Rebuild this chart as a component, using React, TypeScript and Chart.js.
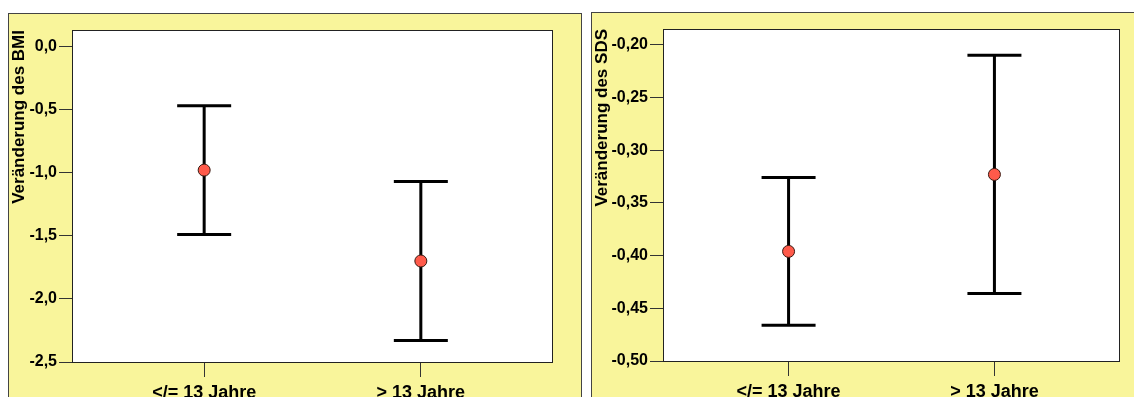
import React, { useEffect, useRef } from 'react';
import { Chart, registerables } from 'chart.js';

Chart.register(...registerables);

// ---- data ----
const categories = ['</= 13 Jahre', '> 13 Jahre'];

const bmiMean = [-0.98, -1.7];
const bmiLower = [-1.49, -2.33];
const bmiUpper = [-0.47, -1.07];
const bmiTicks = [0, -0.5, -1.0, -1.5, -2.0, -2.5];

const sdsMean = [-0.396, -0.323];
const sdsLower = [-0.466, -0.436];
const sdsUpper = [-0.326, -0.21];
const sdsTicks = [-0.2, -0.25, -0.3, -0.35, -0.4, -0.45, -0.5];

const FONT = "'Liberation Sans', Arial, Helvetica, sans-serif";
const YELLOW = '#f9f59b';

function makeErrorBarPlugin(lower: number[], upper: number[], capHalf: number) {
  return {
    id: 'errorBars',
    beforeDraw(chart: any) {
      const { ctx, chartArea: a } = chart;
      ctx.save();
      ctx.fillStyle = '#ffffff';
      ctx.fillRect(a.left, a.top, a.right - a.left, a.bottom - a.top);
      ctx.restore();
    },
    beforeDatasetsDraw(chart: any) {
      const { ctx } = chart;
      const x = chart.scales.x;
      const y = chart.scales.y;
      ctx.save();
      ctx.strokeStyle = '#000000';
      ctx.lineWidth = 3;
      ctx.lineCap = 'butt';
      lower.forEach((lo, i) => {
        const px = x.getPixelForValue(i + 1);
        const pl = y.getPixelForValue(lo);
        const pu = y.getPixelForValue(upper[i]);
        ctx.beginPath();
        ctx.moveTo(px, pl);
        ctx.lineTo(px, pu);
        ctx.moveTo(px - capHalf, pl);
        ctx.lineTo(px + capHalf, pl);
        ctx.moveTo(px - capHalf, pu);
        ctx.lineTo(px + capHalf, pu);
        ctx.stroke();
      });
      ctx.restore();
    },
    afterDraw(chart: any) {
      const { ctx, chartArea: a } = chart;
      ctx.save();
      ctx.strokeStyle = '#222222';
      ctx.lineWidth = 1;
      ctx.strokeRect(a.left + 0.5, a.top + 0.5, a.right - a.left - 1, a.bottom - a.top);
      ctx.restore();
    },
  };
}

type PanelProps = {
  left: number;
  top: number;
  width: number;
  height: number;
  mean: number[];
  lower: number[];
  upper: number[];
  ticks: number[];
  decimals: number;
  title: string;
  yMin: number;
  yMax: number;
  yWidth: number;
  xHeight: number;
  padTop: number;
  padRight: number;
};

function Panel(p: PanelProps) {
  const ref = useRef<HTMLCanvasElement | null>(null);
  const cw = p.width - 2;
  const ch = p.height - 2;

  useEffect(() => {
    if (!ref.current) return;
    const chart = new Chart(ref.current, {
      type: 'scatter',
      data: {
        datasets: [
          {
            data: categories.map((_, i) => ({ x: i + 1, y: p.mean[i] })),
            pointRadius: 6,
            pointHoverRadius: 6,
            backgroundColor: '#ff5a4a',
            borderColor: '#3a1a12',
            borderWidth: 1,
          },
        ],
      },
      options: {
        animation: false,
        responsive: false,
        maintainAspectRatio: false,
        events: [],
        layout: { padding: { top: p.padTop, right: p.padRight, left: 0, bottom: 0 } },
        plugins: {
          legend: { display: false },
          tooltip: { enabled: false },
        },
        scales: {
          x: {
            type: 'linear',
            min: 0.39,
            max: 2.61,
            afterBuildTicks: (s: any) => {
              s.ticks = categories.map((_, i) => ({ value: i + 1 }));
            },
            afterFit: (s: any) => {
              s.height = p.xHeight;
            },
            ticks: {
              autoSkip: false,
              maxRotation: 0,
              padding: 5,
              color: '#000',
              font: { family: FONT, size: 18, weight: 'bold' },
              callback: (_v: any, i: number) => categories[i],
            },
            grid: {
              display: true,
              drawOnChartArea: false,
              drawTicks: true,
              tickLength: 15,
              color: '#333',
            },
            border: { display: false },
          },
          y: {
            type: 'linear',
            min: p.yMin,
            max: p.yMax,
            afterBuildTicks: (s: any) => {
              s.ticks = p.ticks.map((v) => ({ value: v }));
            },
            afterFit: (s: any) => {
              s.width = p.yWidth;
            },
            ticks: {
              autoSkip: false,
              padding: 2,
              color: '#000',
              font: { family: FONT, size: 16, weight: 'bold' },
              callback: (v: any) => Number(v).toFixed(p.decimals).replace('.', ','),
            },
            grid: {
              display: true,
              drawOnChartArea: false,
              drawTicks: true,
              tickLength: 13,
              color: '#333',
            },
            border: { display: false },
            title: {
              display: true,
              text: p.title,
              align: 'end',
              color: '#000',
              padding: 0,
              font: { family: FONT, size: 17, weight: 'bold' },
            },
          },
        },
      },
      plugins: [makeErrorBarPlugin(p.lower, p.upper, 27)],
    } as any);
    return () => chart.destroy();
  }, []);

  return (
    <div
      style={{
        position: 'absolute',
        left: p.left,
        top: p.top,
        width: p.width,
        height: p.height,
        boxSizing: 'border-box',
        border: '1px solid #444',
        background: YELLOW,
      }}
    >
      <canvas ref={ref} width={cw} height={ch} style={{ display: 'block', width: cw, height: ch }} />
    </div>
  );
}

export default function App() {
  return (
    <div
      style={{
        position: 'fixed',
        left: 0,
        top: 0,
        width: 1134,
        height: 397,
        overflow: 'hidden',
        background: '#fff',
      }}
    >
      <Panel
        left={8}
        top={13}
        width={574}
        height={386}
        mean={bmiMean}
        lower={bmiLower}
        upper={bmiUpper}
        ticks={bmiTicks}
        decimals={1}
        title="Veränderung des BMI"
        yMin={-2.5}
        yMax={0.13}
        yWidth={63}
        xHeight={36}
        padTop={16}
        padRight={28}
      />
      <Panel
        left={591}
        top={12}
        width={558}
        height={387}
        mean={sdsMean}
        lower={sdsLower}
        upper={sdsUpper}
        ticks={sdsTicks}
        decimals={2}
        title="Veränderung des SDS"
        yMin={-0.5}
        yMax={-0.185}
        yWidth={71}
        xHeight={37}
        padTop={16}
        padRight={28}
      />
    </div>
  );
}
